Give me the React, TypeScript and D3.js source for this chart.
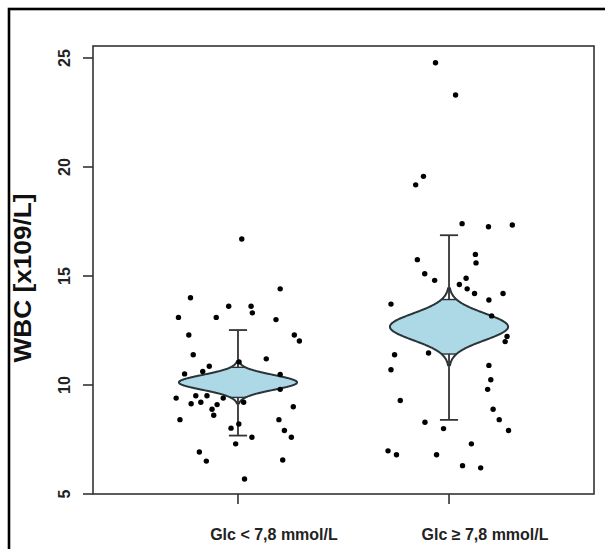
import React, {useEffect} from 'react';
import * as d3 from 'd3';

// categories and readings
const groups = ['Glc < 7,8 mmol/L', 'Glc \u2265 7,8 mmol/L'];
const yTicks = [5, 10, 15, 20, 25];

const wbcLow = [16.70,14.41,14.00,13.61,13.61,13.31,13.10,13.10,13.00,12.29,12.29,12.02,11.39,11.20,11.06,10.86,10.51,10.62,10.48,9.80,9.40,9.51,9.51,9.40,9.14,9.21,9.10,8.89,8.61,9.21,9.00,8.41,8.41,8.21,8.02,7.91,7.60,7.60,7.30,6.93,6.51,6.56,5.69];
const jitterLow = [0.018,0.20,-0.225,-0.044,0.062,0.068,-0.282,-0.103,0.18,-0.233,0.267,0.291,-0.212,0.134,0.005,-0.136,-0.253,-0.167,0.20,0.20,-0.293,-0.20,-0.147,-0.07,-0.222,-0.176,-0.099,-0.123,-0.115,0.027,0.262,-0.275,0.194,0.004,-0.033,0.22,0.066,0.253,-0.011,-0.183,-0.15,0.212,0.031];

const wbcHigh = [24.78,23.30,19.57,19.18,17.40,17.26,17.34,15.99,15.60,15.75,15.10,14.80,14.90,14.61,14.41,14.20,14.20,13.90,13.71,13.17,12.23,11.99,11.39,11.47,10.70,10.90,10.24,9.80,9.29,8.89,8.41,8.29,8.00,7.91,7.30,6.98,6.80,6.80,6.30,6.20];
const jitterHigh = [-0.064,0.031,-0.121,-0.158,0.062,0.187,0.30,0.125,0.128,-0.15,-0.115,-0.068,0.081,0.049,0.086,0.121,0.256,0.189,-0.275,0.202,0.275,0.266,-0.258,-0.097,-0.275,0.189,0.198,0.183,-0.231,0.209,0.238,-0.114,-0.026,0.282,0.106,-0.289,-0.249,-0.059,0.064,0.15];

// error bars (low, high) and violin of the mean
const barLow = [7.68, 8.40];
const barHigh = [12.52, 16.87];
const violinCenter = [10.12, 12.67];
const violinSd = [0.34, 0.615];
const violinFill = [0.69, 1.25];
const violinTip = [1.0, 1.8];

const W = 605, H = 549;
const plot = {left: 93, right: 594, top: 46, bottom: 494};

export default function App() {
    useEffect(() => { document.body.style.margin = '0'; }, []);

    const x = d3.scaleLinear().domain([0.313, 2.687]).range([plot.left, plot.right]);
    const y = d3.scaleLinear().domain([5, 25.55]).range([plot.bottom, plot.top]);
    const halfW = 0.28; // widest half of a violin, in group units
    const cap = 0.043;

    const points = [
        ...wbcLow.map((v, i) => ({gx: 1 + jitterLow[i], v})),
        ...wbcHigh.map((v, i) => ({gx: 2 + jitterHigh[i], v})),
    ];

    const violins = groups.map((g, i) => {
        const c = i + 1, m = violinCenter[i], s = violinSd[i];
        const wid = (v: number) => halfW * Math.exp(-((v - m) ** 2) / (2 * s * s));
        const fillV = d3.range(-violinFill[i], violinFill[i] + 1e-9, violinFill[i] / 40).map(d => m + d);
        const tipV = d3.range(-violinTip[i], violinTip[i] + 1e-9, violinTip[i] / 60).map(d => m + d);
        const area = d3.area<number>()
            .x0(v => x(c - wid(v))).x1(v => x(c + wid(v))).y(v => y(v))
            .curve(d3.curveBasis);
        const side = (sgn: number) => d3.line<number>()
            .x(v => x(c + sgn * wid(v))).y(v => y(v)).curve(d3.curveBasis)(tipV);
        const lo = m - violinFill[i], hi = m + violinFill[i];
        return {c, fill: area(fillV), left: side(-1), right: side(1), lo, hi, wlo: wid(lo), whi: wid(hi)};
    });

    const stroke = '#2a3439';

    return (
        <svg width={W} height={H} style={{display: 'block', background: '#fff'}}>
            <rect x={9} y={9} width={800} height={800} fill="none" stroke="#000" strokeWidth={2.6} />
            <rect x={plot.left} y={plot.top} width={plot.right - plot.left} height={plot.bottom - plot.top}
                  fill="none" stroke="#333" strokeWidth={1.6} />

            {yTicks.map(t => (
                <g key={t}>
                    <line x1={plot.left - 10} x2={plot.left} y1={y(t)} y2={y(t)} stroke="#333" strokeWidth={1.6} />
                    <text transform={`translate(70,${y(t)}) rotate(-90)`} textAnchor="middle"
                          fontFamily="Liberation Sans, Arial, sans-serif" fontSize={16} fontWeight="bold" fill="#222">{t}</text>
                </g>
            ))}
            {groups.map((g, i) => (
                <g key={g}>
                    <line x1={x(i + 1)} x2={x(i + 1)} y1={plot.bottom} y2={plot.bottom + 10} stroke="#333" strokeWidth={1.6} />
                    <text x={x(i + 1) + 36} y={540} textAnchor="middle"
                          fontFamily="Liberation Sans, Arial, sans-serif" fontSize={16} fontWeight="bold" fill="#222">{g}</text>
                </g>
            ))}
            <text transform={`translate(31,278) rotate(-90)`} textAnchor="middle" textLength={169} lengthAdjust="spacingAndGlyphs"
                  fontFamily="Liberation Sans, Arial, sans-serif" fontSize={24} fontWeight="bold" fill="#111">WBC [x109/L]</text>

            {groups.map((g, i) => (
                <g key={'bar' + i} stroke="#333" strokeWidth={1.8}>
                    <line x1={x(i + 1)} x2={x(i + 1)} y1={y(barLow[i])} y2={y(barHigh[i])} />
                    <line x1={x(i + 1 - cap)} x2={x(i + 1 + cap)} y1={y(barLow[i])} y2={y(barLow[i])} />
                    <line x1={x(i + 1 - cap)} x2={x(i + 1 + cap)} y1={y(barHigh[i])} y2={y(barHigh[i])} />
                </g>
            ))}

            {violins.map((vl, i) => (
                <g key={'vio' + i}>
                    <path d={vl.fill || ''} fill="#add8e6" stroke="none" />
                    <path d={vl.left || ''} fill="none" stroke={stroke} strokeWidth={2} />
                    <path d={vl.right || ''} fill="none" stroke={stroke} strokeWidth={2} />
                    <line x1={x(vl.c - vl.wlo)} x2={x(vl.c + vl.wlo)} y1={y(vl.lo)} y2={y(vl.lo)} stroke={stroke} strokeWidth={1.4} />
                    <line x1={x(vl.c - vl.whi)} x2={x(vl.c + vl.whi)} y1={y(vl.hi)} y2={y(vl.hi)} stroke={stroke} strokeWidth={1.4} />
                </g>
            ))}

            {points.map((p, i) => (
                <circle key={i} cx={x(p.gx)} cy={y(p.v)} r={2.7} fill="#000" />
            ))}
        </svg>
    );
}
